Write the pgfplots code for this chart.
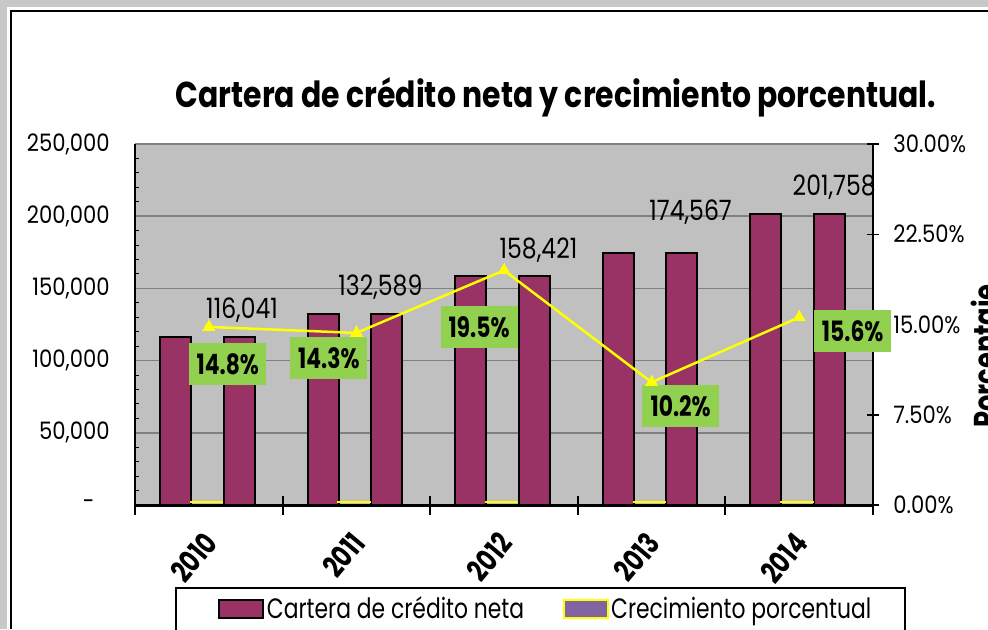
\documentclass[border=0pt]{standalone}
\usepackage{fontspec}
\setmainfont{Poppins}
\newfontfamily\cg[FakeStretch=0.78]{Poppins}
\newfontfamily\cgt[FakeStretch=0.83]{Poppins}
\newfontfamily\cgl[FakeStretch=0.88]{Poppins}
\newfontfamily\cgd[FakeStretch=0.84]{Poppins}
\usepackage{pgfplots}
\pgfplotsset{compat=1.18}
\definecolor{maroon}{HTML}{993366}
\definecolor{plotgray}{HTML}{C0C0C0}
\definecolor{gridgray}{HTML}{808080}
\definecolor{bandgray}{HTML}{C8C8C8}
\definecolor{lgreen}{HTML}{92D050}
\definecolor{legpurple}{HTML}{8064A2}
\definecolor{yel}{HTML}{FFFF00}
\begin{document}
\begin{tikzpicture}
\useasboundingbox (0,0) rectangle (494pt,314.5pt);
\fill[bandgray] (0,0) rectangle (494pt,314.5pt);
\fill[white] (3.5pt,0) rectangle (494pt,311pt);
\draw[line width=1pt] (5.5pt,0) -- (5.5pt,309pt) -- (494pt,309pt);
\node[anchor=base, inner sep=0pt, font=\cgt\bfseries\fontsize{18}{20}\selectfont] at (278pt,261pt) {Cartera de crédito neta y crecimiento porcentual.};
\draw[line width=1pt, fill=white] (88pt,-5pt) rectangle (452.5pt,20.5pt);
\node[rotate=90, anchor=north, inner sep=0pt, font=\cg\bfseries\fontsize{16.5}{18}\selectfont] at (485.5pt,136.5pt) {Porcentaje};

% Axis 1: bars, left axis
\begin{axis}[
 at={(67.5pt,62pt)}, anchor=south west, scale only axis, width=369pt, height=180.5pt,
 xmin=-0.5, xmax=4.5, ymin=0, ymax=250000,
 axis background/.style={fill=plotgray},
 axis x line*=bottom, axis y line*=left,
 x axis line style={-, line width=1.5pt},
 y axis line style={-, line width=1pt},
 xtick={-0.5,0.5,1.5,2.5,3.5,4.5}, x tick label as interval,
 xticklabels={2010,2011,2012,2013,2014},
 xticklabel style={yshift=-16pt, xshift=1pt, rotate=50, anchor=east, inner sep=0pt, font=\cg\bfseries\fontsize{15}{17}\selectfont},
 ytick={0,50000,100000,150000,200000,250000},
 yticklabels={{-\hspace*{7.5pt}},{50,000},{100,000},{150,000},{200,000},{250,000}},
 yticklabel style={anchor=east, inner sep=0pt, xshift=-12.5pt, font=\cgl\fontsize{12}{14}\selectfont},
 scaled y ticks=false,
 minor y tick num=4, tick align=inside, major tick length=0pt, minor tick length=2pt,
 minor tick style={black, line width=0.5pt},
 ymajorgrids, major grid style={gridgray, line width=0.75pt},
 legend style={at={(axis description cs:0.1125,-0.288)}, anchor=west, draw=none, fill=none, inner sep=0pt, nodes={inner sep=1.25pt}, font=\cg\fontsize{14}{16}\selectfont, legend columns=2, /tikz/every even column/.append style={column sep=18pt}},
 legend cell align=left,
 legend image code/.code={\draw[#1] (0pt,-4.5pt) rectangle (22pt,4.5pt);},
 clip=false,
]
\addlegendimage{fill=maroon, draw=black, line width=1pt}
\addlegendimage{fill=legpurple, draw=yel, line width=1pt}
\legend{Cartera de crédito neta, Crecimiento porcentual}
\addplot[ybar, bar width=0.21, bar shift=-0.225, fill=maroon, draw=black, line width=1pt, forget plot] coordinates {(0,116041) (1,132589) (2,158421) (3,174567) (4,201758)};
\addplot[ybar, bar width=0.21, bar shift=0.205, fill=maroon, draw=black, line width=1pt, forget plot] coordinates {(0,116041) (1,132589) (2,158421) (3,174567) (4,201758)};
\addplot[ybar, bar width=0.21, bar shift=-0.015, fill=legpurple, draw=yel, line width=1.2pt, yshift=1.4pt, forget plot] coordinates {(0,0.148) (1,0.143) (2,0.195) (3,0.102) (4,0.156)};
\node[anchor=base, inner sep=0pt, xshift=16.65pt, yshift=9.5pt, font=\cgd\fontsize{14}{16}\selectfont] at (axis cs:0,116041) {116,041};
\node[anchor=base, inner sep=0pt, xshift=12pt, yshift=9.25pt, font=\cgd\fontsize{14}{16}\selectfont] at (axis cs:1,132589) {132,589};
\node[anchor=base, inner sep=0pt, xshift=17.25pt, yshift=9pt, font=\cgd\fontsize{14}{16}\selectfont] at (axis cs:2,158421) {158,421};
\node[anchor=base, inner sep=0pt, xshift=19.5pt, yshift=16pt, font=\cgd\fontsize{14}{16}\selectfont] at (axis cs:3,174567) {174,567};
\node[anchor=base, inner sep=0pt, xshift=17.5pt, yshift=9.25pt, font=\cgd\fontsize{14}{16}\selectfont] at (axis cs:4,201758) {201,758};
\end{axis}

% Axis 2: percentage line, right axis
\begin{axis}[
 at={(67.5pt,62pt)}, anchor=south west, scale only axis, width=369pt, height=180.5pt,
 xmin=-0.5, xmax=4.5, ymin=0, ymax=0.30,
 axis x line=none, axis y line*=right,
 y axis line style={-, line width=1pt},
 ytick={0,0.075,0.15,0.225,0.30},
 yticklabels={0.00\%,7.50\%,15.00\%,22.50\%,30.00\%},
 yticklabel style={anchor=west, inner sep=0pt, xshift=7pt, font=\cgl\fontsize{12}{14}\selectfont},
 tick align=center, major tick length=6pt, tick style={black, line width=0.75pt},
 scaled y ticks=false, clip=false,
]
\addplot[yel, line width=1.25pt, mark=triangle*, mark size=3.5pt, mark options={fill=yel, draw=yel, line width=0pt}] coordinates {(0,0.148) (1,0.143) (2,0.195) (3,0.102) (4,0.156)};
\tikzset{gbox/.style={fill=lgreen, inner sep=0pt, minimum width=38.5pt, minimum height=21pt, font=\cg\bfseries\fontsize{14}{16}\selectfont}}
\node[gbox, xshift=9.5pt, yshift=-18.5pt] at (axis cs:0,0.148) {14.8\%};
\node[gbox, xshift=-13.75pt, yshift=-12.5pt] at (axis cs:1,0.143) {14.3\%};
\node[gbox, xshift=-12.5pt, yshift=-28.25pt] at (axis cs:2,0.195) {19.5\%};
\node[gbox, xshift=14.5pt, yshift=-11.85pt] at (axis cs:3,0.102) {10.2\%};
\node[gbox, xshift=26.75pt, yshift=-7.1pt] at (axis cs:4,0.156) {15.6\%};
\end{axis}

% Axis 3: x tick marks crossing the axis
\begin{axis}[
 at={(67.5pt,62pt)}, anchor=south west, scale only axis, width=369pt, height=180.5pt,
 xmin=-0.5, xmax=4.5, ymin=0, ymax=1,
 axis y line=none, axis x line*=bottom, x axis line style={draw=none},
 xtick={-0.5,0.5,1.5,2.5,3.5,4.5}, xticklabels={{},{},{},{},{},{}},
 tick align=center, major tick length=9.5pt, tick style={black, line width=1pt},
]
\end{axis}
\end{tikzpicture}
\end{document}
